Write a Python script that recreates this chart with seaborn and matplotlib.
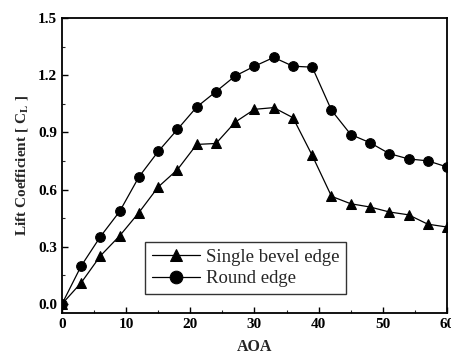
import matplotlib
matplotlib.use("Agg")
import matplotlib.pyplot as plt
import seaborn as sns
import pandas as pd
from matplotlib.ticker import MultipleLocator

aoa = [0, 3, 6, 9, 12, 15, 18, 21, 24, 27, 30, 33, 36, 39, 42, 45, 48, 51, 54, 57, 60]
single_bevel = [0.0, 0.112, 0.253, 0.358, 0.48, 0.614, 0.705, 0.837, 0.842, 0.954, 1.021,
                1.03, 0.977, 0.779, 0.565, 0.526, 0.509, 0.483, 0.468, 0.419, 0.404]
round_edge = [0.0, 0.20, 0.354, 0.486, 0.667, 0.80, 0.916, 1.033, 1.114, 1.196, 1.247,
              1.293, 1.247, 1.242, 1.016, 0.889, 0.846, 0.789, 0.761, 0.751, 0.719]
series_names = ["Single bevel edge", "Round edge"]

df = pd.DataFrame({
    "AOA": aoa * 2,
    "CL": single_bevel + round_edge,
    "Edge": [series_names[0]] * len(aoa) + [series_names[1]] * len(aoa),
})

sns.set_theme(style="white")
plt.rcParams["font.family"] = ["Liberation Serif", "DejaVu Serif"]
plt.rcParams["mathtext.fontset"] = "stix"

fig = plt.figure(figsize=(4.52, 3.59), dpi=100)
ax = fig.add_axes([0.137, 0.129, 0.852, 0.821])

sns.lineplot(data=df, x="AOA", y="CL", hue="Edge", style="Edge",
             palette=["black", "black"], markers={"Single bevel edge": "^", "Round edge": "o"},
             dashes=False, markersize=7, linewidth=0.9, markeredgecolor="black",
             ax=ax, legend=True)

ax.set_xlim(0, 60)
ax.set_ylim(-0.045, 1.5)
ax.xaxis.set_major_locator(MultipleLocator(10))
ax.xaxis.set_minor_locator(MultipleLocator(5))
ax.yaxis.set_major_locator(MultipleLocator(0.3))
ax.yaxis.set_minor_locator(MultipleLocator(0.15))
ax.set_yticks([0, 0.3, 0.6, 0.9, 1.2, 1.5])
ax.set_yticklabels(["0.0", "0.3", "0.6", "0.9", "1.2", "1.5"])
ax.tick_params(axis="both", which="major", direction="in", length=4, width=1,
               labelsize=11, colors="black", left=True, bottom=True)
ax.tick_params(axis="both", which="minor", direction="in", length=2.5, width=0.8,
               left=True, bottom=True)
for lbl in ax.get_xticklabels() + ax.get_yticklabels():
    lbl.set_fontweight("bold")

for s in ax.spines.values():
    s.set_color("black")
    s.set_linewidth(1.3)

ax.set_xlabel("AOA", fontsize=11.5, fontweight="bold", labelpad=6)
ax.set_ylabel(r"Lift Coefficient [ C$_{\mathbf{L}}$ ]", fontsize=11, fontweight="bold", labelpad=6)

leg = ax.legend(loc="upper left", bbox_to_anchor=(0.216, 0.24), borderaxespad=0,
                fontsize=13.5, frameon=True, fancybox=False, edgecolor="black",
                handlelength=2.6, markerscale=1.3, borderpad=0.35, labelspacing=0.25,
                handletextpad=0.3)
leg.get_frame().set_linewidth(1.0)
leg.set_title(None)

fig.savefig("out.png", dpi=100)
